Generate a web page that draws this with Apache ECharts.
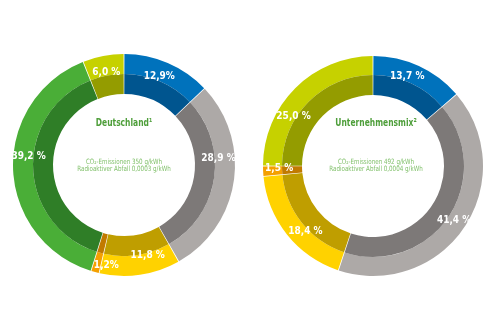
<!DOCTYPE html>
<html>
<head>
<meta charset="utf-8">
<script src="https://cdn.jsdelivr.net/npm/echarts@6/dist/echarts.min.js"></script>
<style>
  html, body { margin: 0; padding: 0; background: #ffffff; }
  #chart { width: 500px; height: 333px; }
</style>
</head>
<body>
<div id="chart"></div>
<script>
// ---- data ----
const categories = ['Kernkraft', 'Kohle', 'Erdgas', 'Sonstige fossile', 'Erneuerbare (EEG)', 'Sonstige erneuerbare'];
const deutschlandValues = [12.9, 28.9, 11.8, 1.2, 39.2, 6.0];
const deutschlandLabels = ['12,9%', '28,9 %', '11,8 %', '1,2%', '39,2 %', '6,0 %'];
const unternehmenValues = [13.7, 41.4, 18.4, 1.5, 0, 25.0];
const unternehmenLabels = ['13,7 %', '41,4 %', '18,4 %', '1,5 %', '', '25,0 %'];
const deutschlandTitle = 'Deutschland\u00B9';
const unternehmenTitle = 'Unternehmensmix\u00B2';
const deutschlandInfo = ['CO\u2082-Emissionen 350 g/kWh', 'Radioaktiver Abfall 0,0003 g/kWh'];
const unternehmenInfo = ['CO\u2082-Emissionen 492 g/kWh', 'Radioaktiver Abfall 0,0004 g/kWh'];

// ---- styles ----
const outerColors = ['#0072BC', '#ADA9A7', '#FFD200', '#F4A000', '#4AAE37', '#C6D100'];
const innerColors = ['#00558F', '#7D7978', '#BF9E00', '#C17A00', '#2F7E27', '#949C00'];
const leftLabelShift = [[-2, -2], [1, -20], [10, -3], [7, 9], [-1, -12], [0, 0]];
const rightLabelShift = [[-5, -4], [3, 2], [6, 7], [0, -2], [0, 0], [-13, 17]];

const FONT = '"Liberation Sans Narrow", "DejaVu Sans Condensed", Roboto, sans-serif';

function buildItems(values, colors, labels, shifts) {
  const out = [];
  values.forEach((v, i) => {
    if (v <= 0) return;
    const item = { name: categories[i], value: v, itemStyle: { color: colors ? colors[i] : 'rgba(0,0,0,0)' } };
    if (labels) {
      item.label = { formatter: labels[i], offset: shifts[i] };
    }
    out.push(item);
  });
  return out;
}

function donut(center, values, labels, shifts, rOuter) {
  const common = {
    type: 'pie', center: center, startAngle: 90, clockwise: true,
    avoidLabelOverlap: false, padAngle: 0.45, silent: true, animation: false,
    labelLine: { show: false }
  };
  return [
    Object.assign({}, common, {
      radius: [91, rOuter],
      label: { show: false },
      data: buildItems(values, outerColors)
    }),
    Object.assign({}, common, {
      radius: [71, 91],
      label: { show: false },
      data: buildItems(values, innerColors)
    }),
    Object.assign({}, common, {
      radius: [71, rOuter + 1],
      z: 5,
      label: {
        show: true, position: 'inside', color: '#ffffff',
        fontFamily: FONT, fontWeight: 'bold', fontSize: 10
      },
      labelLayout: { hideOverlap: false },
      data: buildItems(values, null, labels, shifts)
    })
  ];
}

function centerText(x, title, info) {
  return [
    { type: 'text', x: x, y: 123, z: 10, scaleX: 0.8, style: {
        text: title, textAlign: 'center', textVerticalAlign: 'middle',
        fill: '#4E9E3A', font: 'bold 10.5px ' + FONT } },
    { type: 'text', x: x, y: 162, z: 10, scaleX: 0.85, style: {
        text: info[0], textAlign: 'center', textVerticalAlign: 'middle',
        fill: '#82C16C', font: '7.3px ' + FONT } },
    { type: 'text', x: x, y: 169.5, z: 10, scaleX: 0.85, style: {
        text: info[1], textAlign: 'center', textVerticalAlign: 'middle',
        fill: '#82C16C', font: '7.3px ' + FONT } }
  ];
}

const chart = echarts.init(document.getElementById('chart'), null, { renderer: 'canvas' });
chart.setOption({
  backgroundColor: '#ffffff',
  animation: false,
  series: [].concat(
    donut([124, 165], deutschlandValues, deutschlandLabels, leftLabelShift, 111),
    donut([373, 166], unternehmenValues, unternehmenLabels, rightLabelShift, 110)
  ),
  graphic: [].concat(
    centerText(124, deutschlandTitle, deutschlandInfo),
    centerText(376, unternehmenTitle, unternehmenInfo)
  )
});
</script>
</body>
</html>
